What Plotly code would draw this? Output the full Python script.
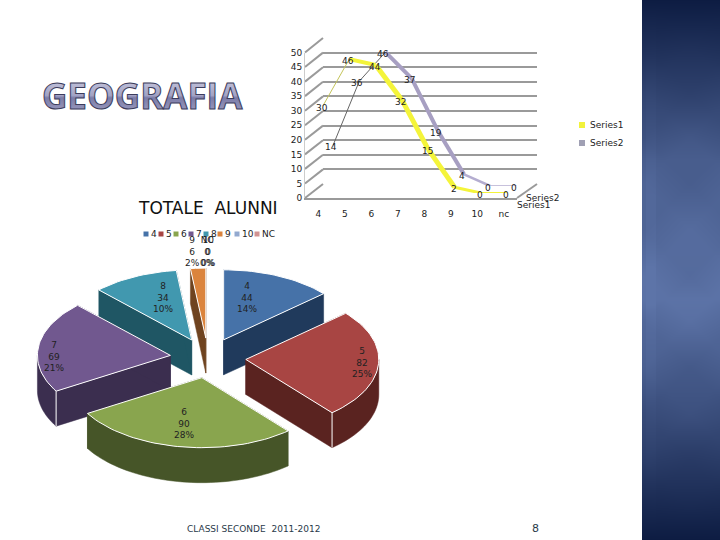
import math
import numpy as np
import plotly.graph_objects as go

# ---------- data ----------
line_categories = ["4", "5", "6", "7", "8", "9", "10", "nc"]
series1_name = "Series1"
series2_name = "Series2"
series1_values = [30, 46, 44, 32, 15, 2, 0, 0]
series2_values = [14, 36, 46, 37, 19, 4, 0, 0]
y_ticks = [0, 5, 10, 15, 20, 25, 30, 35, 40, 45, 50]

pie_categories = ["4", "5", "6", "7", "8", "9", "10", "NC"]
pie_values = [44, 82, 90, 69, 34, 6, 0, 0]
pie_percents = ["14%", "25%", "28%", "21%", "10%", "2%", "0%", "0%"]

# ---------- styles ----------
W, H = 720, 540
TEXT = "#222222"
FONT = "DejaVu Sans"
GRID = "#9a9a9a"
s1_widths = [1, 4, 5, 5, 5, 3, 2]
s1_colors = ["#c4c45a", "#f4f43a", "#f4f43a", "#f4f43a", "#f4f43a", "#f4f43a", "#f4f43a"]
s2_widths = [1, 1, 4, 4, 4, 2.5, 1.5]
s2_colors = ["#666666", "#666666", "#a79fc2", "#a79fc2", "#a79fc2", "#b4add0", "#b4add0"]
top_colors = ["#4672a8", "#a84543", "#89a54e", "#71588f", "#4198af", "#db843d", "#93a9cf", "#d19392"]
side_colors = ["#203a5c", "#5a2320", "#465528", "#3b2e4f", "#1f5664", "#6f431f", "#50607a", "#705050"]
pie_label_xy = [(247, 297), (362, 362), (184, 423), (54, 356), (163, 297), (192, 251), (208, 251), (207, 251)]
pie_legend_x = [146, 161, 176, 191, 206, 220, 237, 257]
CX, CY, RX, RY, DEPTH, EXPLODE = 208, 358, 133, 70, 35, 0.285


def dx(a, b):
    return [a / W, b / W]


def dy(top, bot):
    return [1 - bot / H, 1 - top / H]


fig = go.Figure()

# ---------- right-hand panel ----------
panel_x = np.arange(642.5, 720, 1.0)
panel_y = np.arange(0.5, 540, 1.0)
base = np.interp(panel_y, [0, 160, 300, 420, 540], [0, 0.75, 1, 0.55, 0])
px_, py_ = np.meshgrid(panel_x, panel_y)
tri = np.abs(((px_ + py_) / 46) % 2 - 1) + np.abs(((px_ - py_) / 46) % 2 - 1)
stripes = ((px_ > 646) & (px_ < 656)) * 0.05
panel_z = base[:, None] * (0.93 + 0.05 * tri) + stripes * base[:, None]
fig.add_trace(go.Heatmap(x=panel_x, y=panel_y, z=panel_z, xaxis="x", yaxis="y", showscale=False,
                         zmin=0, zmax=1, hoverinfo="skip",
                         colorscale=[[0, "#0d1c42"], [1, "#5d74a8"]]))

# ---------- exploded 3D pie, built from the values ----------
total = sum(pie_values)
angles = [0]
for v in pie_values:
    angles.append(angles[-1] + 360 * v / total)


def pt(ax, ay, deg):
    r = math.radians(deg)
    return ax + RX * math.sin(r), ay - RY * math.cos(r)


def arc_points(ax, ay, a0, a1):
    n = max(2, int((a1 - a0) / 2))
    return [pt(ax, ay, a0 + (a1 - a0) * k / n) for k in range(n + 1)]


slices = []
for i, v in enumerate(pie_values):
    if v == 0:
        continue
    a0, a1 = angles[i], angles[i + 1]
    mid = math.radians((a0 + a1) / 2)
    ax = CX + EXPLODE * RX * math.sin(mid)
    ay = CY - EXPLODE * RY * math.cos(mid)
    slices.append((math.cos(mid), i, a0, a1, ax, ay))

for _, i, a0, a1, ax, ay in sorted(slices, key=lambda s: -s[0]):
    polys = []
    # two radial faces
    for a in (a0, a1):
        p = pt(ax, ay, a)
        polys.append(([ax, p[0], p[0], ax, ax], [ay, p[1], p[1] + DEPTH, ay + DEPTH, ay]))
    # front part of the outer wall
    f0, f1 = max(a0, 90), min(a1, 270)
    if f1 > f0:
        band = arc_points(ax, ay, f0, f1)
        polys.append(([p[0] for p in band] + [p[0] for p in reversed(band)] + [band[0][0]],
                      [p[1] for p in band] + [p[1] + DEPTH for p in reversed(band)] + [band[0][1]]))
    for wx, wy in polys:
        fig.add_trace(go.Scatter(x=wx, y=wy, mode="lines", fill="toself", fillcolor=side_colors[i],
                                 line=dict(color=side_colors[i], width=0.5, simplify=False), hoverinfo="skip",
                                 xaxis="x", yaxis="y", showlegend=False))
    # white corner only where two visible wall faces meet
    cx_, cy_ = [], []
    if 90 < a1 < 180:
        p = pt(ax, ay, a1)
        cx_ += [p[0], p[0], None]
        cy_ += [p[1], p[1] + DEPTH, None]
    if 180 < a0 < 270:
        p = pt(ax, ay, a0)
        cx_ += [p[0], p[0], None]
        cy_ += [p[1], p[1] + DEPTH, None]
    if cx_:
        fig.add_trace(go.Scatter(x=cx_, y=cy_, mode="lines", line=dict(color="white", width=1),
                                 hoverinfo="skip", xaxis="x", yaxis="y", showlegend=False))
    arc = arc_points(ax, ay, a0, a1)
    fig.add_trace(go.Scatter(x=[ax] + [p[0] for p in arc] + [ax], y=[ay] + [p[1] for p in arc] + [ay], mode="lines",
                             fill="toself", fillcolor=top_colors[i], line=dict(color="white", width=1),
                             name=pie_categories[i], xaxis="x", yaxis="y", showlegend=False))

annotations = []


def label(x, y, text, size=9, color=TEXT, family=FONT, xref="x", yref="y", **kw):
    annotations.append(dict(x=x, y=y, text=text, xref=xref, yref=yref, showarrow=False,
                            font=dict(family=family, size=size, color=color), **kw))


for i, cat in enumerate(pie_categories):
    x, y = pie_label_xy[i]
    label(x, y, f"{cat}<br>{pie_values[i]}<br>{pie_percents[i]}", size=9)

# pie legend
fig.add_trace(go.Scatter(x=pie_legend_x, y=[234] * 8, mode="markers", xaxis="x", yaxis="y", showlegend=False,
                         marker=dict(symbol="square", size=5, color=top_colors), hoverinfo="skip"))
for i, cat in enumerate(pie_categories):
    label(pie_legend_x[i] + 3, 234, cat, xanchor="left", size=9)

# ---------- 3D frame of the line chart ----------
F_L, F_R, F_B, F_T = 305, 517, 198, 52.5      # front plane
B_L, B_R, B_B, B_T = 323, 537, 184, 38        # back wall
diag_x, diag_y = [], []
for t in y_ticks:
    diag_x += [F_L, B_L, None]
    diag_y += [F_B + (F_T - F_B) * t / 50, B_B + (B_T - B_B) * t / 50, None]
diag_x += [F_R, B_R, None]
diag_y += [F_B, B_B, None]
fig.add_trace(go.Scatter(x=diag_x, y=diag_y, mode="lines", line=dict(color=GRID, width=2), xaxis="x", yaxis="y",
                         showlegend=False, hoverinfo="skip"))

# back wall grid
fig.add_trace(go.Scatter(x=line_categories, y=[None] * 8, xaxis="x2", yaxis="y2", showlegend=False))
# front plane: tick labels
fig.add_trace(go.Scatter(x=line_categories, y=[None] * 8, xaxis="x3", yaxis="y3", showlegend=False))

# series 2 (behind), series 1 (in front)
for vals, widths, colors, xa, ya, name in (
    (series2_values, s2_widths, s2_colors, "x4", "y4", series2_name),
    (series1_values, s1_widths, s1_colors, "x5", "y5", series1_name),
):
    for k in range(len(vals) - 1):
        fig.add_trace(go.Scatter(x=line_categories[k:k + 2], y=vals[k:k + 2], mode="lines", xaxis=xa, yaxis=ya,
                                 line=dict(color=colors[k], width=widths[k]), name=name, showlegend=False))
for vals, xa, ya, xs in ((series2_values, "x4", "y4", -2), (series1_values, "x5", "y5", -1)):
    for k, v in enumerate(vals):
        label(k, v, str(v), xref=xa, yref=ya, xshift=xs, yshift=-2, size=9)

# line chart legend and depth-axis labels
fig.add_trace(go.Scatter(x=[582, 582], y=[125, 143], mode="markers", xaxis="x", yaxis="y", showlegend=False,
                         marker=dict(symbol="square", size=6, color=["#f2f23c", "#a0a0b4"]), hoverinfo="skip"))
label(588, 125, series1_name, xanchor="left")
label(588, 143, series2_name, xanchor="left")
label(533, 205, series1_name)
label(542, 198, series2_name)

# ---------- titles ----------
annotations.append(dict(x=142, y=95, text="<b>GEOGRAFIA</b>", xref="x", yref="y", showarrow=False,
                        font=dict(family="Open Sans", size=35, color="#a3a3c6")))
label(208, 208, "TOTALE  ALUNNI", size=17, color="#111111")
label(254, 529, "CLASSI SECONDE  2011-2012", size=9, color="#2a3a4a")
label(535, 528, "8", size=11, color="#2a3a4a")

# ---------- layout ----------
hidden = dict(visible=False, showgrid=False, zeroline=False)
cat_axis = dict(type="category", categoryorder="array", categoryarray=line_categories, range=[-0.5, 7.5])
fig.update_layout(
    width=W, height=H, margin=dict(l=0, r=0, t=0, b=0, pad=0, autoexpand=False), autosize=False,
    paper_bgcolor="white", plot_bgcolor="rgba(0,0,0,0)", showlegend=False,
    annotations=annotations,
    xaxis=dict(hidden, range=[0, W], domain=[0, 1]),
    yaxis=dict(hidden, range=[H, 0], domain=[0, 1]),
    # back wall
    xaxis2=dict(hidden, **cat_axis, domain=dx(B_L, B_R), anchor="y2"),
    yaxis2=dict(range=[0, 50], domain=dy(B_T, B_B), anchor="x2", tickvals=y_ticks, showticklabels=False,
                showgrid=True, gridcolor=GRID, gridwidth=2, zeroline=False, showline=False, ticks=""),
    # front plane
    xaxis3=dict(**cat_axis, domain=dx(F_L, F_R), anchor="y3", showgrid=False, zeroline=False, showline=True,
                linecolor=GRID, linewidth=2, ticks="", ticklabelstandoff=6,
                tickfont=dict(family=FONT, size=9, color=TEXT)),
    yaxis3=dict(range=[0, 50], domain=dy(F_T, F_B), anchor="x3", tickvals=y_ticks, showgrid=False, zeroline=False,
                showline=True, linecolor="#cccccc", linewidth=1, ticks="", ticklabelstandoff=0,
                tickfont=dict(family=FONT, size=9, color=TEXT)),
    # series 2 plane
    xaxis4=dict(hidden, **cat_axis, domain=dx(320, 529.5), anchor="y4"),
    yaxis4=dict(hidden, range=[0, 50], domain=dy(40.5, 186), anchor="x4"),
    # series 1 plane
    xaxis5=dict(hidden, **cat_axis, domain=dx(309.85, 520.25), anchor="y5"),
    yaxis5=dict(hidden, range=[0, 50], domain=dy(47.5, 193), anchor="x5"),
)

post = """
document.documentElement.style.margin='0';
document.body.style.margin='0';
document.body.style.overflow='hidden';
(function(){
  var ns='http://www.w3.org/2000/svg';
  var defs=document.createElementNS(ns,'defs');
  defs.innerHTML='<linearGradient id="geoFill" x1="0" y1="0" x2="0" y2="1">'+
    '<stop offset="0" stop-color="#d4d4e6"/><stop offset="0.5" stop-color="#a2a2c4"/>'+
    '<stop offset="0.55" stop-color="#7c7ca8"/><stop offset="1" stop-color="#a8a8c8"/></linearGradient>';
  document.querySelectorAll('.annotation-text').forEach(function(t){
    if(t.textContent.indexOf('GEOGRAFIA')>=0){
      t.ownerSVGElement.insertBefore(defs,t.ownerSVGElement.firstChild);
      t.style.fill='url(#geoFill)';
      t.querySelectorAll('*').forEach(function(c){c.style.fill='url(#geoFill)';});
      t.style.stroke='#3c3c5c';
      t.style.strokeWidth='1px';
    }
  });
})();
"""
fig.write_html("out.html", post_script=post, config=dict(displayModeBar=False))
